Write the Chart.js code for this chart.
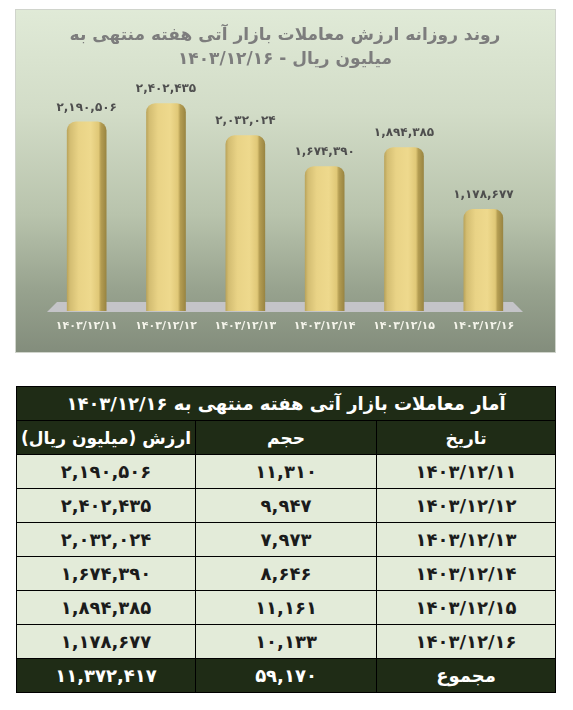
<!DOCTYPE html>
<html lang="fa">
<head>
<meta charset="utf-8">
<script src="https://cdn.jsdelivr.net/npm/chart.js@4.4.1/dist/chart.umd.min.js"></script>
<style>
  html, body { margin: 0; padding: 0; background: #ffffff; }
  body { width: 573px; height: 710px; position: relative; overflow: hidden; font-family: "DejaVu Sans", sans-serif; }
  #chartBox {
    position: absolute; left: 16px; top: 10px; width: 539px; height: 342px;
    background: linear-gradient(to bottom, #e0ead7 0%, #d2dcc7 30%, #b8c3ac 60%, #97a28e 82%, #838d7c 100%);
    box-shadow: 0 0 0 1px #d0d4cc;
  }
  #chartBox canvas { display: block; }
  #stats {
    position: absolute; left: 16px; top: 386px; width: 540px;
    border-collapse: collapse; direction: rtl; table-layout: fixed;
    font-family: "DejaVu Sans", sans-serif; font-weight: bold;
  }
  #stats td { border: 1px solid #000; text-align: center; padding: 0; height: 33px; }
  #stats .dark td { background: #1f2c16; color: #ffffff; }
  #stats .title td { font-size: 18px; }
  #stats .head td { font-size: 17px; }
  #stats .row td { background: #e3ebd9; color: #1b1b1b; font-size: 18px; }
  #stats .total td { font-size: 18px; }
</style>
</head>
<body>
<div id="chartBox"><canvas id="c" dir="ltr"></canvas></div>
<table id="stats"></table>
<script>
// ---- data ----
const categories = ['۱۴۰۳/۱۲/۱۱', '۱۴۰۳/۱۲/۱۲', '۱۴۰۳/۱۲/۱۳', '۱۴۰۳/۱۲/۱۴', '۱۴۰۳/۱۲/۱۵', '۱۴۰۳/۱۲/۱۶'];
const tradeValues = [2190506, 2402435, 2032024, 1674390, 1894385, 1178677]; // million rials
const tradeVolumes = [11310, 9947, 7973, 8646, 11161, 10133];
const totalValue = 11372417;
const totalVolume = 59170;
const chartTitle = ['روند روزانه ارزش معاملات بازار آتی هفته منتهی به', '\u202A۱۴۰۳/۱۲/۱۶ - میلیون ریال\u202C'];
const tableTitle = 'آمار معاملات بازار آتی هفته منتهی به ۱۴۰۳/۱۲/۱۶';
const tableHeaders = ['تاریخ', 'حجم', 'ارزش (میلیون ریال)'];
const totalLabel = 'مجموع';

const faDigits = '۰۱۲۳۴۵۶۷۸۹';
function toFa(n) {
  return String(n).replace(/\B(?=(\d{3})+(?!\d))/g, ',').replace(/\d/g, d => faDigits[d]);
}

// ---- table ----
const tbl = document.getElementById('stats');
let html = '<colgroup><col style="width:33.2%"><col style="width:33.6%"><col style="width:33.2%"></colgroup>';
html += '<tr class="dark title"><td colspan="3">' + tableTitle + '</td></tr>';
html += '<tr class="dark head">' + tableHeaders.map(h => '<td>' + h + '</td>').join('') + '</tr>';
categories.forEach((c, i) => {
  html += '<tr class="row"><td>' + c + '</td><td>' + toFa(tradeVolumes[i]) + '</td><td>' + toFa(tradeValues[i]) + '</td></tr>';
});
html += '<tr class="dark total"><td>' + totalLabel + '</td><td>' + toFa(totalVolume) + '</td><td>' + toFa(totalValue) + '</td></tr>';
tbl.innerHTML = html;

// ---- chart ----
const floorPlugin = {
  id: 'floor',
  beforeDatasetsDraw(chart) {
    const { ctx, chartArea: a } = chart;
    const b = a.bottom + 1, t = b - 10;
    ctx.save();
    ctx.fillStyle = '#c4c4c8';
    ctx.beginPath();
    ctx.moveTo(a.left, b);
    ctx.lineTo(a.right, b);
    ctx.lineTo(a.right - 10, t);
    ctx.lineTo(a.left + 10, t);
    ctx.closePath();
    ctx.fill();
    ctx.restore();
  }
};

const valueLabels = {
  id: 'valueLabels',
  afterDatasetsDraw(chart) {
    const { ctx } = chart;
    const meta = chart.getDatasetMeta(0);
    ctx.save();
    ctx.font = 'bold 12px "DejaVu Sans"';
    ctx.fillStyle = '#4e4e4e';
    ctx.textAlign = 'center';
    ctx.textBaseline = 'middle';
    meta.data.forEach((el, i) => {
      ctx.fillText(toFa(chart.data.datasets[0].data[i]), el.x, el.y - 14);
    });
    ctx.restore();
  }
};

function barFill(ctx) {
  const chart = ctx.chart;
  const xs = chart.scales && chart.scales.x;
  if (!xs || !chart.chartArea || ctx.dataIndex === undefined) return '#e8d287';
  const cx = xs.getPixelForValue(ctx.dataIndex);
  const w = xs.width / categories.length * 0.5;
  const g = chart.ctx.createLinearGradient(cx - w / 2, 0, cx + w / 2, 0);
  g.addColorStop(0, '#b9a35a');
  g.addColorStop(0.08, '#d3bd72');
  g.addColorStop(0.3, '#e9d386');
  g.addColorStop(0.6, '#eed98d');
  g.addColorStop(0.8, '#e0c877');
  g.addColorStop(0.86, '#b49d52');
  g.addColorStop(1, '#988441');
  return g;
}

new Chart(document.getElementById('c'), {
  type: 'bar',
  data: {
    labels: categories,
    datasets: [{
      data: tradeValues,
      backgroundColor: barFill,
      borderWidth: 0,
      borderRadius: { topLeft: 9, topRight: 9, bottomLeft: 0, bottomRight: 0 },
      borderSkipped: 'bottom',
      barPercentage: 0.5,
      categoryPercentage: 1.0
    }]
  },
  options: {
    responsive: true,
    maintainAspectRatio: false,
    animation: false,
    layout: { padding: { left: 31, right: 32, top: 0, bottom: 0 } },
    plugins: {
      legend: { display: false },
      tooltip: { enabled: false },
      title: {
        display: true,
        text: chartTitle,
        color: '#7d7d7d',
        font: { family: 'DejaVu Sans', size: 17, weight: 'bold', lineHeight: 1.45 },
        padding: { top: 13, bottom: 0 }
      }
    },
    scales: {
      x: {
        grid: { display: false, drawTicks: false },
        border: { display: false },
        ticks: {
          color: '#f4f4ea',
          font: { family: 'DejaVu Sans', size: 11, weight: 'bold' },
          padding: 9,
          maxRotation: 0,
          autoSkip: false
        },
        afterFit(scale) { scale.height = 41; }
      },
      y: {
        display: false,
        min: 0,
        max: 2760000
      }
    }
  },
  plugins: [floorPlugin, valueLabels]
});
</script>
</body>
</html>
